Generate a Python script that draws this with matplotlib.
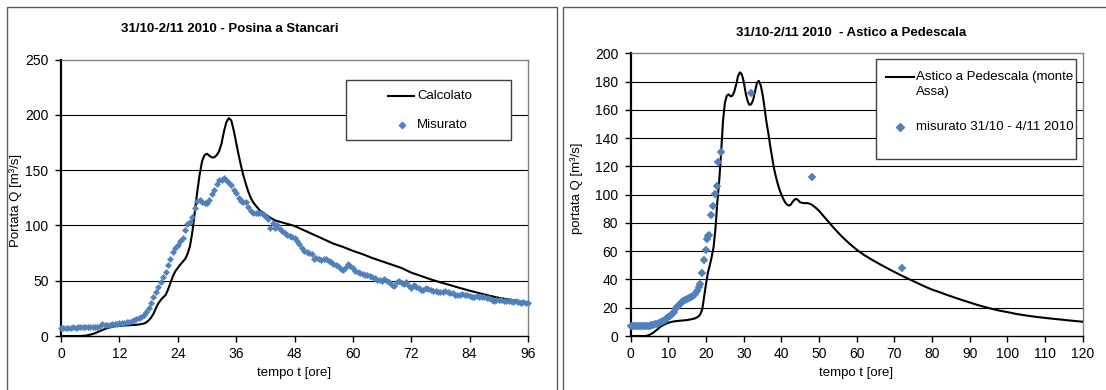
import numpy as np
import matplotlib
matplotlib.use("Agg")
import matplotlib.pyplot as plt
from matplotlib.patches import Rectangle
from matplotlib.lines import Line2D

plt.rcParams['font.family'] = ['Liberation Sans', 'DejaVu Sans']

# ---------------- data: left chart (Posina a Stancari) ----------------
posina_title = "31/10-2/11 2010 - Posina a Stancari"
posina_calc_t = [0, 4, 5, 6, 7, 8, 9, 10, 11, 12, 13, 14, 15, 16, 17, 17.5, 18, 18.5, 19, 19.5,
                 20, 20.5, 21, 21.5, 22, 22.5, 23, 23.5, 24, 24.5, 25, 25.5, 26, 26.5, 27, 27.5,
                 28, 28.5, 29, 29.5, 30, 30.5, 31, 31.5, 32, 32.5, 33, 33.5, 34, 34.5, 35, 35.5,
                 36, 36.5, 37, 37.5, 38, 38.5, 39, 39.5, 40, 41, 42, 43, 44, 46, 48, 50, 52, 54,
                 56, 58, 60, 62, 64, 66, 68, 70, 72, 74, 76, 78, 80, 82, 84, 86, 88, 90, 92, 94, 96]
posina_calc_q = [0, 0, 0.3, 1.2, 2.5, 4.5, 6.3, 7.8, 8.8, 9.3, 9.5, 9.7, 10.0, 10.4, 11.2, 12.2, 14.0, 16.5, 20.0, 25.0,
                 29.5, 32.5, 35.0, 37.0, 42.0, 48.0, 54.0, 58.5, 61.5, 64.5, 67.0, 69.5, 74.0, 81.0, 94.0, 112.0,
                 130.0, 146.0, 158.0, 163.5, 164.8, 163.0, 161.5, 161.5, 163.5, 167.0, 174.0, 185.0, 193.5, 197.0, 195.0, 186.0,
                 175.0, 164.0, 154.0, 145.0, 137.5, 130.5, 125.0, 121.0, 118.0, 113.0, 110.0, 107.0, 104.5, 102.0, 99.5, 95.5, 91.5, 87.5,
                 83.5, 80.5, 77.0, 74.0, 70.5, 67.5, 64.5, 61.5, 57.3, 54.3, 51.2, 48.5, 46.0, 43.4, 41.0, 38.7, 36.5, 34.5, 33.0, 31.5, 30.0]
# measured every half hour from t = 0 to t = 96
posina_meas_q = [7.5, 7.5, 7.6, 7.5, 7.6, 7.7, 7.6, 7.7, 7.8, 7.8,
                 7.9, 8.0, 8.1, 8.3, 8.0, 8.5, 9.0, 10.8, 10.2, 9.8,
                 10.0, 10.5, 10.8, 11.2, 11.5, 11.8, 12.0, 12.5, 13.0, 13.6,
                 14.3, 15.0, 16.0, 17.3, 19.0, 21.5, 25.0, 30.0, 35.5, 40.0,
                 44.0, 49.0, 53.0, 58.0, 64.0, 70.0, 75.5, 79.5, 82.0, 86.0,
                 89.0, 96.0, 101.0, 103.0, 108.0, 116.0, 122.0, 123.0, 121.5, 120.0,
                 120.5, 123.0, 128.0, 132.0, 137.0, 141.0, 141.5, 143.0, 141.0, 138.0,
                 136.5, 132.0, 129.0, 125.0, 122.0, 121.5, 121.0, 117.0, 113.0, 111.5,
                 111.0, 111.0, 111.0, 110.0, 108.5, 106.0, 98.0, 102.0, 97.5, 100.0,
                 97.0, 95.0, 93.5, 91.0, 90.0, 89.5, 88.5, 86.0, 83.0, 79.5,
                 77.0, 75.5, 75.0, 74.0, 70.0, 70.5, 70.0, 69.0, 69.5, 69.3,
                 67.5, 66.5, 65.5, 64.5, 63.0, 61.0, 59.5, 62.5, 65.0, 63.5,
                 61.5, 58.5, 57.5, 57.0, 56.5, 55.5, 55.0, 54.5, 53.0, 52.0,
                 51.0, 50.5, 49.5, 51.5, 50.0, 48.5, 46.5, 45.5, 48.5, 50.0,
                 48.0, 47.0, 48.5, 45.0, 43.5, 46.0, 44.5, 43.0, 42.0, 41.5,
                 43.0, 42.5, 41.5, 40.5, 40.5, 40.0, 39.5, 39.5, 40.5, 40.0,
                 39.0, 38.5, 37.5, 37.0, 37.5, 38.0, 37.5, 37.0, 36.0, 35.5,
                 35.5, 36.0, 35.5, 35.0, 35.0, 34.5, 34.0, 33.0, 32.0, 32.5,
                 33.0, 32.5, 32.0, 31.5, 32.0, 31.5, 31.0, 31.5, 30.5, 29.5,
                 30.5, 30.0, 29.5]
posina_meas_t = [0.5 * i for i in range(len(posina_meas_q))]
posina_xticks = [0, 12, 24, 36, 48, 60, 72, 84, 96]
posina_yticks = [0, 50, 100, 150, 200, 250]

# ---------------- data: right chart (Astico a Pedescala) ----------------
astico_title = "31/10-2/11 2010  - Astico a Pedescala"
astico_calc_t = [0, 4, 5, 6, 7, 8, 9, 10, 11, 12, 13, 14, 15, 16, 17, 18, 18.5, 19, 19.5, 20,
                 20.5, 21, 21.5, 22, 22.5, 23, 23.5, 24, 24.5, 25, 25.5, 26, 26.5, 27, 27.5, 28,
                 28.5, 29, 29.5, 30, 30.5, 31, 31.5, 32, 32.5, 33, 33.5, 34, 34.5, 35, 35.5, 36,
                 36.5, 37, 37.5, 38, 38.5, 39, 39.5, 40, 40.5, 41, 41.5, 42, 42.5, 43, 43.5, 44,
                 44.5, 45, 46, 47, 48, 49, 50, 52, 54, 56, 58, 60, 62, 64, 66, 68, 70, 72, 74, 76,
                 78, 80, 82, 84, 86, 88, 90, 92, 94, 96, 98, 100, 102, 104, 106, 108, 110, 112,
                 114, 116, 118, 120]
astico_calc_q = [0, 0, 0.8, 2.4, 4.5, 6.8, 8.3, 9.4, 10.1, 10.5, 10.8, 11.0, 11.3, 11.8, 12.4, 13.8, 15.5, 19.0, 28.0, 37.0,
                 45.0, 50.0, 56.0, 63.0, 76.0, 95.0, 110.0, 130.0, 152.0, 165.0, 170.0, 171.0, 169.5, 170.0, 173.0, 178.0,
                 184.0, 186.5, 185.0, 180.0, 172.0, 166.5, 163.5, 164.0, 167.0, 173.0, 179.0, 180.5, 177.5, 171.0, 162.0, 152.0,
                 144.0, 135.0, 127.0, 119.0, 113.0, 108.0, 103.5, 100.0, 97.0, 94.5, 93.0, 92.2, 93.0, 95.0, 96.5, 97.0,
                 96.0, 94.5, 94.0, 94.0, 93.0, 91.0, 88.5, 82.3, 76.2, 70.5, 65.5, 61.0, 57.2, 54.0, 51.0, 48.1, 45.3, 42.6, 40.1, 37.6,
                 35.1, 32.8, 31.0, 29.0, 27.2, 25.4, 23.7, 22.0, 20.5, 19.1, 17.9, 16.9, 15.8, 14.9, 14.1, 13.4, 12.8, 12.2,
                 11.7, 11.1, 10.6, 10.1]
astico_meas_t = [0, 0.5, 1, 1.5, 2, 2.5, 3, 3.5, 4, 4.5, 5, 5.5, 6, 6.5, 7, 7.5, 8, 8.5, 9, 9.5,
                 10, 10.5, 11, 11.5, 12, 12.5, 13, 13.5, 14, 14.5, 15, 15.5, 16, 16.5, 17, 17.5, 18, 18.4,
                 19.0, 19.4, 19.9, 20.3, 20.6, 20.9, 21.4, 21.8, 22.4, 22.8, 23.3, 23.9, 32, 48, 72]
astico_meas_q = [7.3, 7.0, 7.0, 6.8, 6.8, 7.0, 7.0, 7.0, 7.0, 7.0, 7.2, 7.5, 7.8, 8.2, 8.6, 9.0, 9.8, 10.5, 11.3, 12.2,
                 13.4, 14.5, 15.5, 17.0, 19.5, 21.3, 22.8, 24.0, 25.0, 25.6, 26.3, 27.0, 27.8, 28.5, 29.5, 31.8, 34.5, 37.0,
                 44.8, 53.8, 60.8, 68.4, 70.5, 71.4, 85.6, 92.0, 100.5, 106.1, 122.9, 130.0, 172.0, 112.7, 47.9]
astico_xticks = list(range(0, 121, 10))
astico_yticks = list(range(0, 201, 20))

# ---------------- layout helpers ----------------
W, H = 1106, 390
fig = plt.figure(figsize=(W / 100, H / 100), dpi=100)
fig.patch.set_facecolor('white')


def fx(px):
    return px / W


def fy(py):
    return 1 - py / H


def axes_at(x0, x1, ytop, ybot):
    return fig.add_axes([fx(x0), fy(ybot), fx(x1) - fx(x0), fy(ytop) - fy(ybot)])


BLUE = '#4F81BD'
FS_TICK = 10
FS_LAB = 9.5
FS_TITLE = 9.5

# outer chart frames
for x0, x1 in [(6.5, 556.5), (563, 1120)]:
    fig.add_artist(Rectangle((fx(x0), fy(400)), fx(x1) - fx(x0), fy(7.5) - fy(400),
                             transform=fig.transFigure, fill=False, ec='#5a5a5a', lw=1.0, zorder=0.5))


def style_axes(ax, xticks, yticks, xmax, ymax):
    ax.set_xlim(0, xmax)
    ax.set_ylim(0, ymax)
    ax.set_xticks(xticks)
    ax.set_yticks(yticks)
    ax.tick_params(axis='both', direction='out', length=4, width=1, color='black',
                   labelsize=FS_TICK, pad=4)
    ax.tick_params(axis='y', pad=5)
    for y in yticks[1:-1]:
        ax.axhline(y, color='black', lw=0.8, zorder=1)
    ax.spines['left'].set_color('black')
    ax.spines['left'].set_linewidth(1.6)
    ax.spines['bottom'].set_color('black')
    ax.spines['bottom'].set_linewidth(1.0)
    ax.spines['top'].set_color('#808080')
    ax.spines['right'].set_color('#808080')
    ax.spines['top'].set_linewidth(1.0)
    ax.spines['right'].set_linewidth(1.0)
    ax.set_axisbelow(False)


# ---------------- left chart ----------------
ax1 = axes_at(61, 528, 59.5, 336)
style_axes(ax1, posina_xticks, posina_yticks, 96, 250)
ax1.plot(posina_calc_t, posina_calc_q, color='black', lw=1.5, zorder=3)
ax1.plot(posina_meas_t, posina_meas_q, linestyle='none', marker='D', ms=3.2,
         mfc=BLUE, mec=BLUE, mew=0.3, zorder=4, clip_on=False)
fig.text(fx(230), fy(28.5), posina_title, ha='center', va='center', fontsize=FS_TITLE, fontweight='bold')
fig.text(fx(294.5), fy(373), 'tempo t [ore]', ha='center', va='center', fontsize=FS_LAB)
fig.text(fx(16), fy(200), 'Portata Q [m³/s]', ha='center', va='center', rotation=90, fontsize=FS_LAB)

# left legend
fig.add_artist(Rectangle((fx(345.5), fy(139.5)), fx(510.5) - fx(345.5), fy(80) - fy(139.5),
                         transform=fig.transFigure, fc='white', ec='#404040', lw=1.0, zorder=5))
fig.add_artist(Line2D([fx(387.5), fx(414)], [fy(96), fy(96)], transform=fig.transFigure,
                      color='black', lw=1.5, zorder=6))
fig.add_artist(Line2D([fx(402)], [fy(125.3)], transform=fig.transFigure, linestyle='none',
                      marker='D', ms=3.2, mfc=BLUE, mec=BLUE, zorder=6))
fig.text(fx(417), fy(96), 'Calcolato', ha='left', va='center', fontsize=FS_LAB, zorder=7)
fig.text(fx(417), fy(125.3), 'Misurato', ha='left', va='center', fontsize=FS_LAB, zorder=7)

# ---------------- right chart ----------------
ax2 = axes_at(630.7, 1082.8, 53.3, 336)
style_axes(ax2, astico_xticks, astico_yticks, 120, 200)
ax2.plot(astico_calc_t, astico_calc_q, color='black', lw=1.5, zorder=3)
ax2.plot(astico_meas_t, astico_meas_q, linestyle='none', marker='D', ms=3.8,
         mfc=BLUE, mec=BLUE, mew=0.3, zorder=4, clip_on=False)
fig.text(fx(851), fy(33.5), astico_title, ha='center', va='center', fontsize=FS_TITLE, fontweight='bold')
fig.text(fx(856), fy(373), 'tempo t [ore]', ha='center', va='center', fontsize=FS_LAB)
fig.text(fx(577), fy(188), 'portata Q [m³/s]', ha='center', va='center', rotation=90, fontsize=FS_LAB)

# right legend
fig.add_artist(Rectangle((fx(876.2), fy(159.3)), fx(1075.5) - fx(876.2), fy(58.7) - fy(159.3),
                         transform=fig.transFigure, fc='white', ec='#404040', lw=1.0, zorder=5))
fig.add_artist(Line2D([fx(885.7), fx(913.8)], [fy(77.3), fy(77.3)], transform=fig.transFigure,
                      color='black', lw=1.5, zorder=6))
fig.add_artist(Line2D([fx(900.4)], [fy(126.7)], transform=fig.transFigure, linestyle='none',
                      marker='D', ms=3.8, mfc=BLUE, mec=BLUE, zorder=6))
fig.text(fx(915.5), fy(77.3), 'Astico a Pedescala (monte', ha='left', va='center', fontsize=FS_LAB, zorder=7)
fig.text(fx(915.5), fy(91.5), 'Assa)', ha='left', va='center', fontsize=FS_LAB, zorder=7)
fig.text(fx(915.5), fy(126.7), 'misurato 31/10 - 4/11 2010', ha='left', va='center', fontsize=FS_LAB, zorder=7)

fig.savefig('out.png', dpi=100, facecolor='white')
